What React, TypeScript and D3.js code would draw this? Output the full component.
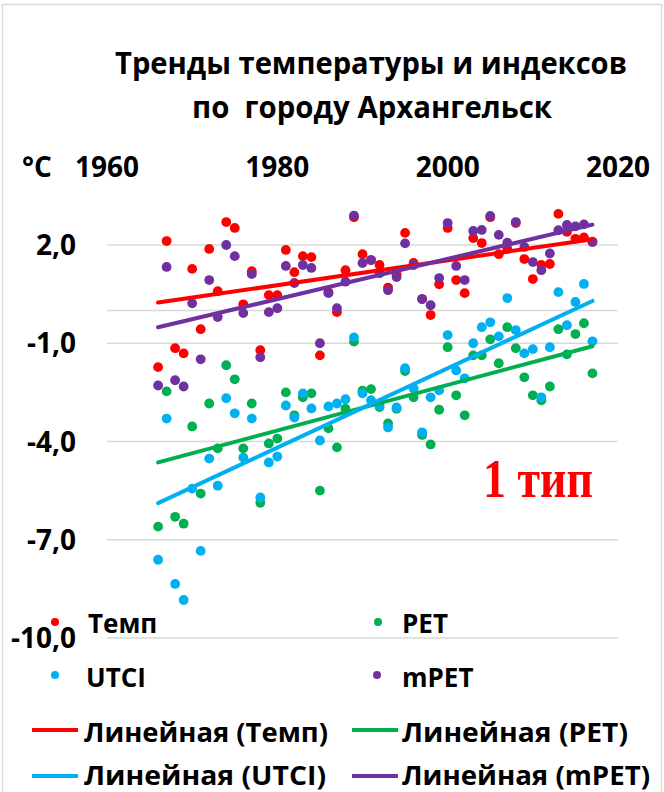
import React from 'react';
import * as d3 from 'd3';

// Years of observation (x values)
const YEARS = d3.range(1966, 2018);

// Annual anomalies, °C
const TEMP = [
  -1.73, 2.12, -1.15, -1.31, 1.27, -0.57, 1.88, 0.59, 2.7, 2.52,
  0.19, 1.2, -1.21, 0.47, 0.47, 1.85, 1.17, 1.66, 1.63, -1.37,
  0.56, -0.05, 1.23, 2.85, 1.72, 1.54, 1.39, 0.7, 1.1, 2.37,
  1.45, 0.35, -0.14, 0.8, 2.52, 0.93, 0.53, 2.21, 2.06, 2.85,
  1.72, 1.88, 2.67, 1.57, 0.96, 1.39, 1.42, 2.95, 2.4, 2.19,
  2.23, 2.1,
];
const PET = [
  -6.6, -2.47, -6.3, -6.51, -3.54, -5.59, -2.84, -4.21, -1.67, -2.1,
  -4.21, -2.84, -5.87, -4.06, -3.91, -2.5, -3.2, -2.65, -2.53, -5.5,
  -3.6, -4.18, -3.0, -0.95, -2.45, -2.4, -2.95, -3.45, -3.0, -1.85,
  -2.65, -3.8, -4.09, -3.03, -1.12, -2.59, -3.2, -1.37, -1.37, -0.88,
  -1.61, -0.51, -1.15, -2.04, -2.59, -2.74, -2.32, -0.57, -1.34, -0.72,
  -0.39, -1.92,
];
const UTCI = [
  -7.61, -3.3, -8.35, -8.84, -5.44, -7.34, -4.52, -5.35, -2.68, -3.14,
  -4.49, -3.3, -5.71, -4.64, -4.46, -2.9, -3.27, -2.53, -2.99, -3.97,
  -2.93, -2.84, -2.71, -0.82, -2.53, -2.74, -2.9, -3.57, -2.96, -1.76,
  -2.38, -3.72, -2.65, -2.44, -0.75, -1.83, -2.07, -1.0, -0.51, -0.36,
  -0.79, 0.38, -0.6, -1.31, -1.18, -2.65, -1.12, 0.56, -0.45, 0.26,
  0.81, -0.94,
];
const MPET = [
  -2.29, 1.33, -2.13, -2.32, 0.22, -1.49, 0.93, -0.2, 2.0, 1.66,
  -0.08, 1.11, -1.43, -0.05, 0.07, 1.36, 0.84, 1.39, 1.3, -1.0,
  0.53, 0.07, 0.88, 2.9, 1.45, 1.54, 1.14, 0.62, 1.02, 2.05,
  1.39, 0.35, 0.16, 0.99, 2.67, 1.36, 0.93, 2.43, 2.46, 2.89,
  2.31, 2.07, 2.7, 1.94, 1.48, 1.23, 1.74, 2.45, 2.61, 2.57,
  2.63, 2.09,
];

const X_TICKS = [1960, 1980, 2000, 2020];
const Y_TICKS = [2, -1, -4, -7, -10];
const GRID_LINES = [2, 0, -1, -4, -7, -10];

const SERIES = [
  { name: 'Темп', values: TEMP, color: '#ff0000' },
  { name: 'PET', values: PET, color: '#00b050' },
  { name: 'UTCI', values: UTCI, color: '#00b0f0' },
  { name: 'mPET', values: MPET, color: '#7030a0' },
];

const FONT = "'Open Sans', 'Noto Sans', sans-serif";

function linearFit(xs: number[], ys: number[]) {
  const mx = d3.mean(xs) as number;
  const my = d3.mean(ys) as number;
  let num = 0;
  let den = 0;
  xs.forEach((x, i) => {
    num += (x - mx) * (ys[i] - my);
    den += (x - mx) * (x - mx);
  });
  const b = num / den;
  const a = my - b * mx;
  return (x: number) => a + b * x;
}

const fmt = (v: number) => d3.format('.1f')(v).replace('.', ',').replace('−', '-');

export default function App() {
  const x = d3.scaleLinear().domain([1960, 2020]).range([107, 618]);
  const y = d3.scaleLinear().domain([-10, 2]).range([638, 245]);
  const line = d3.line<[number, number]>().x((d) => x(d[0])).y((d) => y(d[1]));

  const x0 = d3.min(YEARS) as number;
  const x1 = d3.max(YEARS) as number;

  const legendRows = [
    { kind: 'dot', s: 0, cx: 55, cy: 622, tx: 88, ty: 633, len: 0 },
    { kind: 'dot', s: 1, cx: 378, cy: 622, tx: 402, ty: 633, len: 0 },
    { kind: 'dot', s: 2, cx: 55, cy: 675, tx: 86, ty: 687, len: 0 },
    { kind: 'dot', s: 3, cx: 377, cy: 675, tx: 402, ty: 687, len: 0 },
    { kind: 'line', s: 0, cx: 32, cy: 730, tx: 84, ty: 742, len: 244 },
    { kind: 'line', s: 1, cx: 352, cy: 730, tx: 402, ty: 742, len: 226 },
    { kind: 'line', s: 2, cx: 32, cy: 776, tx: 84, ty: 785, len: 242 },
    { kind: 'line', s: 3, cx: 352, cy: 776, tx: 402, ty: 785, len: 248 },
  ];

  return (
    <svg
      width={664}
      height={792}
      style={{ position: 'absolute', left: 0, top: 0, background: '#fff' }}
      fontFamily={FONT}
    >
      <rect x={0} y={0} width={664} height={792} fill="#fff" />
      <rect x={2.5} y={4.5} width={659} height={800} fill="none" stroke="#d9d9d9" strokeWidth={1.5} />

      {/* title */}
      <text x={115} y={74} fontSize={30} fontWeight={700} fill="#000" textLength={512} lengthAdjust="spacingAndGlyphs">
        Тренды температуры и индексов
      </text>
      <text
        x={192}
        y={118}
        fontSize={30}
        fontWeight={700}
        fill="#000"
        textLength={360}
        lengthAdjust="spacingAndGlyphs"
        style={{ whiteSpace: 'pre' }}
      >
        {'по  городу Архангельск'}
      </text>

      {/* gridlines */}
      {GRID_LINES.map((v) => (
        <line key={v} x1={x(1960)} x2={x(2020)} y1={y(v)} y2={y(v)} stroke="#d9d9d9" strokeWidth={1.6} />
      ))}

      {/* axis labels */}
      <text x={22} y={177} fontSize={28} fontWeight={700} fill="#000">°C</text>
      {X_TICKS.map((t) => (
        <text key={t} x={x(t)} y={177} fontSize={28} fontWeight={700} textAnchor="middle" fill="#000">
          {t}
        </text>
      ))}
      {Y_TICKS.map((t) => (
        <text key={t} x={76} y={y(t) + 10} fontSize={28} fontWeight={700} textAnchor="end" fill="#000">
          {fmt(t)}
        </text>
      ))}

      {/* points */}
      {SERIES.map((s) => (
        <g key={s.name} fill={s.color}>
          {s.values.map((v, i) => (
            <circle key={i} cx={x(YEARS[i])} cy={y(v)} r={4.9} />
          ))}
        </g>
      ))}

      {/* linear trends */}
      {SERIES.map((s) => {
        const f = linearFit(YEARS, s.values);
        return (
          <path
            key={s.name}
            d={line([[x0, f(x0)], [x1, f(x1)]]) as string}
            fill="none"
            stroke={s.color}
            strokeWidth={4}
            strokeLinecap="round"
          />
        );
      })}

      <text x={483} y={497} fontSize={54} fontWeight={700} fontFamily="'Liberation Serif', 'Times New Roman', serif" fill="#ff0000" textLength={110} lengthAdjust="spacingAndGlyphs">
        1 тип
      </text>

      {/* legend */}
      {legendRows.map((r, i) => {
        const s = SERIES[r.s];
        const label = r.kind === 'dot' ? s.name : `Линейная (${s.name})`;
        return (
          <g key={i}>
            {r.kind === 'dot' ? (
              <circle cx={r.cx} cy={r.cy} r={4} fill={s.color} />
            ) : (
              <line x1={r.cx} x2={r.cx + 46} y1={r.cy} y2={r.cy} stroke={s.color} strokeWidth={4} />
            )}
            <text
              x={r.tx}
              y={r.ty}
              fontSize={26}
              fontWeight={700}
              fill="#000"
              {...(r.len ? { textLength: r.len, lengthAdjust: 'spacingAndGlyphs' } : {})}
            >
              {label}
            </text>
          </g>
        );
      })}
    </svg>
  );
}
